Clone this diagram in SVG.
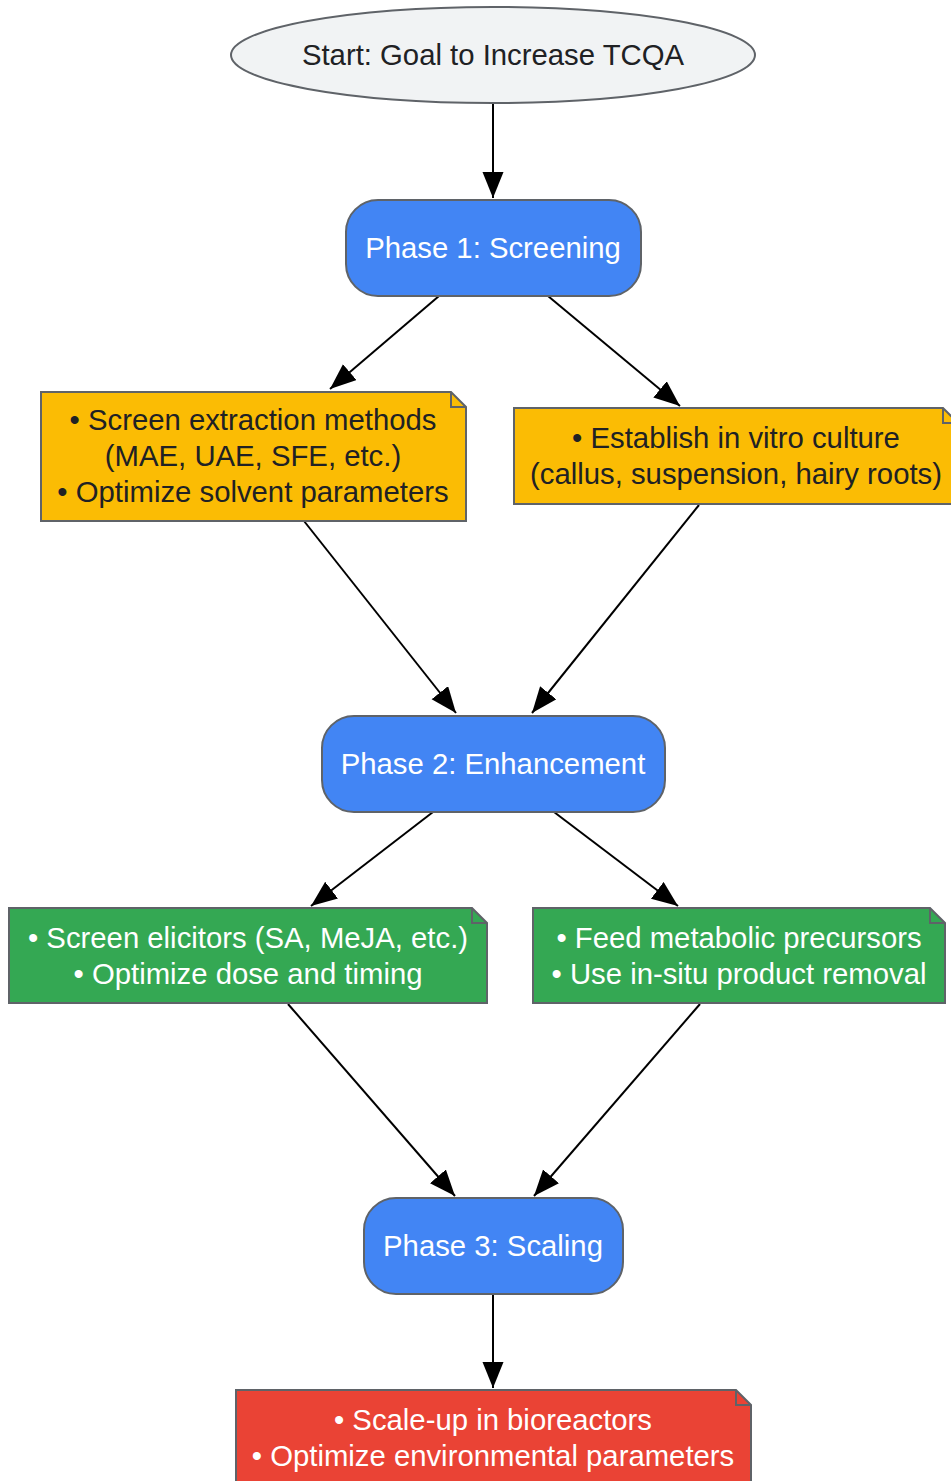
<svg xmlns="http://www.w3.org/2000/svg" width="951" height="1481" viewBox="0 0 951 1481">
<style>
text{font-family:"Liberation Sans",Arial,sans-serif;font-size:29.3px;text-anchor:middle}
.dk{fill:#202124}.wt{fill:#ffffff}
.sh{stroke:#5f6368;stroke-width:2}
.edge{stroke:#000;stroke-width:2;fill:none;marker-end:url(#ah)}
.fold{fill:none;stroke:#5f6368;stroke-width:2}
</style>
<defs>
<marker id="ah" markerUnits="userSpaceOnUse" markerWidth="28" markerHeight="22" refX="26" refY="10.5" orient="auto">
<path d="M0,0 L26,10.5 L0,21 Z" fill="#000"/>
</marker>
</defs>
<g id="connectors">
<path class="edge" d="M493,103 L493,198"/>
<path class="edge" d="M439,296 L330,389"/>
<path class="edge" d="M548,296 L680,406"/>
<path class="edge" d="M304,521 L456,713"/>
<path class="edge" d="M699,505 L532,713"/>
<path class="edge" d="M433,812 L311,906"/>
<path class="edge" d="M554,812 L678,906"/>
<path class="edge" d="M288,1004 L455,1196"/>
<path class="edge" d="M700,1004 L534,1196"/>
<path class="edge" d="M493,1294 L493,1388"/>
</g>
<g id="start">
<ellipse class="sh" cx="493" cy="55" rx="262" ry="48" fill="#f1f3f4"/>
<text class="dk" x="493" y="65">Start: Goal to Increase TCQA</text>
</g>
<g id="phase1">
<rect class="sh" x="346" y="200" width="295" height="96" rx="32" fill="#4285f4"/>
<text class="wt" x="493" y="258">Phase 1: Screening</text>
</g>
<g id="note_extraction">
<path class="sh" d="M41,392 H451 L466,407 V521 H41 Z" fill="#fbbc04"/>
<path class="fold" d="M451,392 V407 H466"/>
<text class="dk" x="253" y="430">• Screen extraction methods</text>
<text class="dk" x="253" y="466">(MAE, UAE, SFE, etc.)</text>
<text class="dk" x="253" y="502">• Optimize solvent parameters</text>
</g>
<g id="note_culture">
<path class="sh" d="M514,408 H943 L958,423 V504 H514 Z" fill="#fbbc04"/>
<path class="fold" d="M943,408 V423 H958"/>
<text class="dk" x="736" y="448">• Establish in vitro culture</text>
<text class="dk" x="736" y="484">(callus, suspension, hairy roots)</text>
</g>
<g id="phase2">
<rect class="sh" x="322" y="716" width="343" height="96" rx="32" fill="#4285f4"/>
<text class="wt" x="493" y="774">Phase 2: Enhancement</text>
</g>
<g id="note_elicitors">
<path class="sh" d="M9,908 H472 L487,923 V1003 H9 Z" fill="#34a853"/>
<path class="fold" d="M472,908 V923 H487"/>
<text class="wt" x="248" y="948">• Screen elicitors (SA, MeJA, etc.)</text>
<text class="wt" x="248" y="984">• Optimize dose and timing</text>
</g>
<g id="note_precursors">
<path class="sh" d="M533,908 H930 L945,923 V1003 H533 Z" fill="#34a853"/>
<path class="fold" d="M930,908 V923 H945"/>
<text class="wt" x="739" y="948">• Feed metabolic precursors</text>
<text class="wt" x="739" y="984">• Use in-situ product removal</text>
</g>
<g id="phase3">
<rect class="sh" x="364" y="1198" width="259" height="96" rx="32" fill="#4285f4"/>
<text class="wt" x="493" y="1256">Phase 3: Scaling</text>
</g>
<g id="note_scaleup">
<path class="sh" d="M236,1390 H736 L751,1405 V1490 H236 Z" fill="#ea4335"/>
<path class="fold" d="M736,1390 V1405 H751"/>
<text class="wt" x="493" y="1430">• Scale-up in bioreactors</text>
<text class="wt" x="493" y="1466">• Optimize environmental parameters</text>
</g>
</svg>
